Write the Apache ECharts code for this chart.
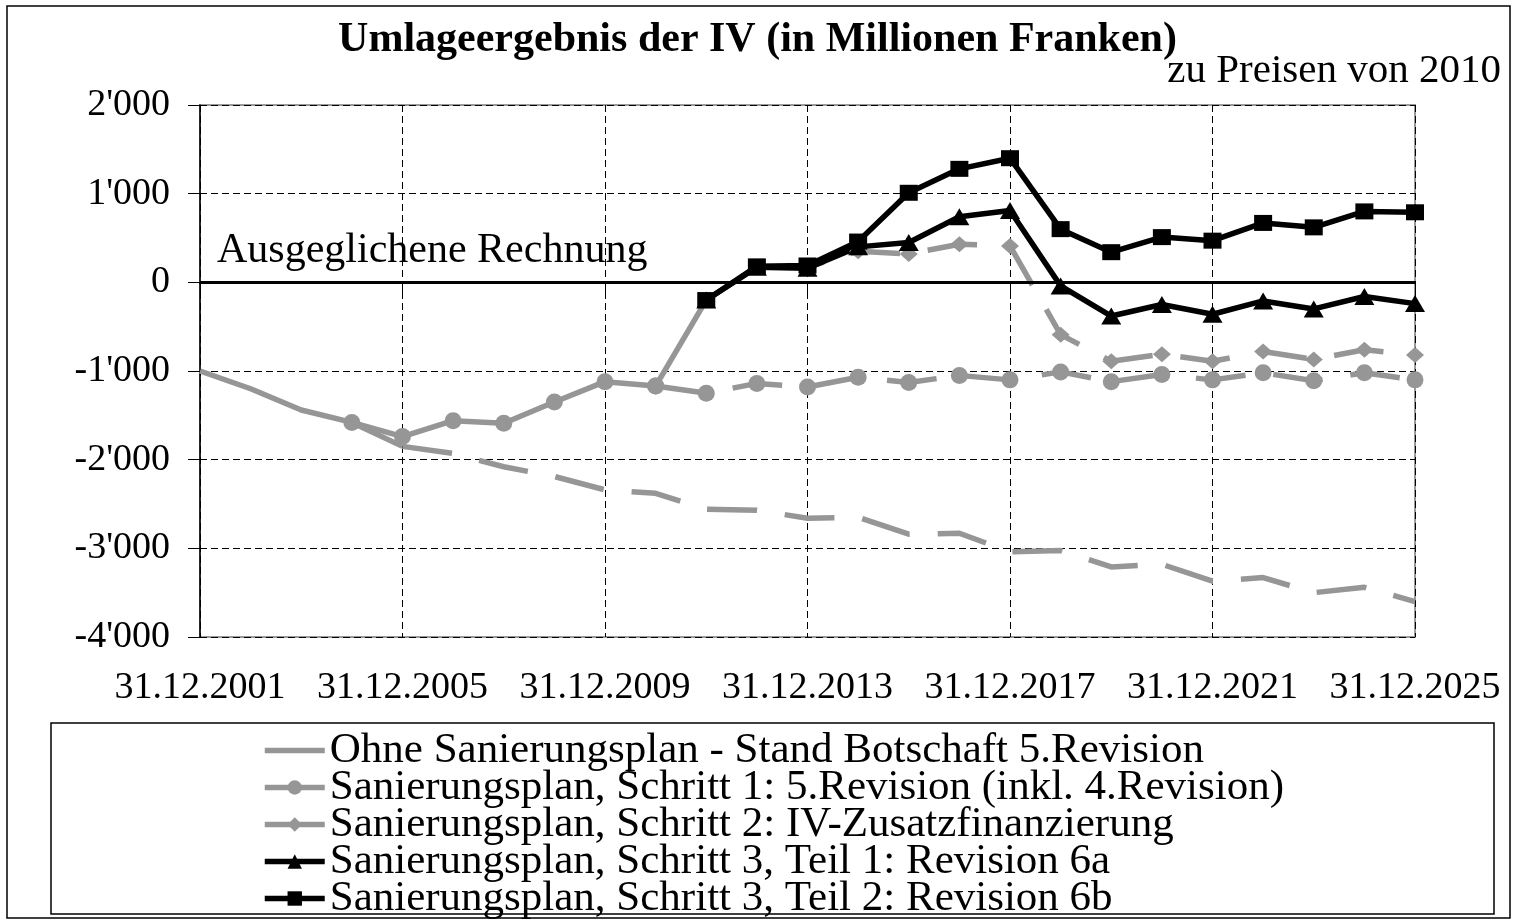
<!DOCTYPE html>
<html lang="de" style="background: #FFFFFF;height: 100%">
	<head>
		<meta charset="utf-8" />
		<title>Umlageergebnis der IV</title>
		<script type="text/javascript" src="https://cdn.jsdelivr.net/npm/echarts@6/dist/echarts.min.js"></script>
	</head>
	<style>
		html,body {
			margin: 0;
			padding: 0;
		}
		body {
			overflow: hidden;
		}
	</style>
	<body style="height: 100%;">
		<div id="chart" style="width: 1515px;height: 921px"></div>
		<script>
			var FONT = '"Liberation Serif", "Times New Roman", serif';
			var GREY = '#969696';

			// Jahre (31.12.)
			var years = [2001, 2002, 2003, 2004, 2005, 2006, 2007, 2008, 2009, 2010, 2011, 2012, 2013,
				2014, 2015, 2016, 2017, 2018, 2019, 2020, 2021, 2022, 2023, 2024, 2025];

			var names = [
				'Ohne Sanierungsplan - Stand Botschaft 5.Revision',
				'Sanierungsplan, Schritt 1: 5.Revision (inkl. 4.Revision)',
				'Sanierungsplan, Schritt 2: IV-Zusatzfinanzierung',
				'Sanierungsplan, Schritt 3, Teil 1: Revision 6a',
				'Sanierungsplan, Schritt 3, Teil 2: Revision 6b'
			];

			// Mio. Franken, zu Preisen von 2010
			var ohne = [-1000, -1200, -1440, -1580, -1850, -1930, -2080, -2190, -2340, -2380, -2560, -2570, -2660,
				-2650, -2840, -2830, -3040, -3025, -3210, -3180, -3370, -3330, -3500, -3440, -3600];
			var schritt1 = [null, null, null, -1580, -1740, -1560, -1590, -1350, -1120, -1170, -1250, -1140, -1180,
				-1070, -1130, -1050, -1100, -1010, -1120, -1040, -1100, -1020, -1110, -1020, -1100];
			var schritt2 = [null, null, null, null, null, null, null, null, null, -1170, -200, 170, 170,
				350, 320, 430, 410, -590, -890, -810, -890, -780, -870, -760, -820];
			var teil1 = [null, null, null, null, null, null, null, null, null, null, -200, 170, 160,
				400, 450, 740, 810, -40, -380, -250, -360, -210, -300, -160, -240];
			var teil2 = [null, null, null, null, null, null, null, null, null, null, -200, 180, 190,
				460, 1010, 1280, 1400, 600, 340, 510, 470, 670, 620, 800, 790];

			// letztes Jahr mit durchgezogener Linie (danach gestrichelt)
			var solidUntil = { ohne: 2005, schritt1: 2010, schritt2: 2011 };

			function part(values, fromYear, toYear) {
				return values.map(function (v, i) {
					return years[i] >= fromYear && years[i] <= toYear ? v : null;
				});
			}

			function fmt(v) {
				var s = String(Math.abs(v)).replace(/\B(?=(\d{3})+(?!\d))/g, "'");
				return (v < 0 ? '-' : '') + s;
			}

			var LONGDASH = [50, 28];

			function lineSeries(name, data, color, type, symbol, size, extra) {
				var s = {
					name: name,
					type: 'line',
					data: data,
					symbol: symbol,
					symbolSize: size,
					showSymbol: symbol !== 'none',
					lineStyle: { color: color, width: 5.5, type: type, cap: 'butt' },
					itemStyle: { color: color, borderWidth: 0 },
					emphasis: { disabled: true },
					silent: true
				};
				for (var k in extra) s[k] = extra[k];
				return s;
			}

			var chart = echarts.init(document.getElementById('chart'));

			chart.setOption({
				animation: false,
				backgroundColor: '#FFFFFF',
				textStyle: { fontFamily: FONT, color: '#000' },
				title: [{
					text: 'Umlageergebnis der IV (in Millionen Franken)',
					left: 'center',
					top: 14,
					textStyle: { fontFamily: FONT, fontSize: 42, fontWeight: 'bold', color: '#000' }
				}, {
					text: 'zu Preisen von 2010',
					right: 9,
					top: 46,
					textStyle: { fontFamily: FONT, fontSize: 41, fontWeight: 'normal', color: '#000' }
				}],
				grid: {
					left: 200, right: 100, top: 105, bottom: 284,
					show: true, borderColor: '#9a9a9a', borderWidth: 2, backgroundColor: 'transparent'
				},
				legend: {
					data: [{ name: names[0], icon: 'path://M0,0H60V5.5H0Z' }].concat(names.slice(1)),
					orient: 'vertical',
					left: 262,
					top: 729,
					padding: 0,
					height: 400,
					itemWidth: 60,
					itemHeight: 18,
					itemGap: -6,
					selectedMode: false,
					lineStyle: { type: 'solid', width: 5.5 },
					textStyle: { fontFamily: FONT, fontSize: 43, color: '#000' }
				},
				graphic: [{
					type: 'rect',
					shape: { x: 7, y: 6, width: 1503, height: 912 },
					style: { fill: 'none', stroke: '#000', lineWidth: 1.5 },
					silent: true
				}, {
					type: 'rect',
					shape: { x: 51, y: 723, width: 1443, height: 191 },
					style: { fill: 'none', stroke: '#000', lineWidth: 1.5 },
					silent: true
				}],
				xAxis: {
					type: 'category',
					data: years,
					boundaryGap: false,
					axisLine: { lineStyle: { color: '#000', width: 2 } },
					axisTick: { interval: 3, length: 11, lineStyle: { color: '#000', width: 1 } },
					axisLabel: {
						interval: 3, margin: 32, fontFamily: FONT, fontSize: 38, color: '#000',
						formatter: function (v) { return '31.12.' + v; }
					},
					splitLine: { show: true, interval: 3, lineStyle: { color: '#000', width: 1, type: [7, 4] } }
				},
				yAxis: {
					type: 'value',
					min: -4000,
					max: 2000,
					interval: 1000,
					axisLine: { show: true, lineStyle: { color: '#000', width: 1.5 } },
					axisTick: { show: true, length: 12, lineStyle: { color: '#000', width: 1 } },
					axisLabel: { margin: 30, fontFamily: FONT, fontSize: 38, color: '#000', formatter: fmt },
					splitLine: { show: true, lineStyle: { color: '#000', width: 1, type: [7, 4] } }
				},
				series: [
					lineSeries(names[0], part(ohne, 2001, solidUntil.ohne), GREY, 'solid', 'none', 0, {
						markLine: {
							silent: true,
							symbol: 'none',
							lineStyle: { color: '#000', width: 3, type: 'solid' },
							label: {
								show: true,
								position: 'insideStartTop',
								distance: [17, 10],
								formatter: 'Ausgeglichene Rechnung',
								fontFamily: FONT, fontSize: 42, color: '#000'
							},
							data: [{ yAxis: 0 }]
						}
					}),
					lineSeries(names[0], part(ohne, solidUntil.ohne, 2025), GREY, LONGDASH, 'none', 0),
					lineSeries(names[1], part(schritt1, 2001, solidUntil.schritt1), GREY, 'solid', 'circle', 17),
					lineSeries(names[1], part(schritt1, solidUntil.schritt1, 2025), GREY, LONGDASH, 'circle', 17),
					lineSeries(names[2], part(schritt2, solidUntil.schritt2, 2025), GREY, LONGDASH, 'diamond', [18, 16]),
					lineSeries(names[2], part(schritt2, 2001, solidUntil.schritt2), GREY, 'solid', 'none', 0),
					lineSeries(names[3], teil1, '#000', 'solid', 'triangle', [20, 17]),
					lineSeries(names[4], teil2, '#000', 'solid', 'rect', [18, 16])
				]
			});

			window.addEventListener('resize', function () {
				chart.resize();
			});
		</script>
	</body>
</html>
